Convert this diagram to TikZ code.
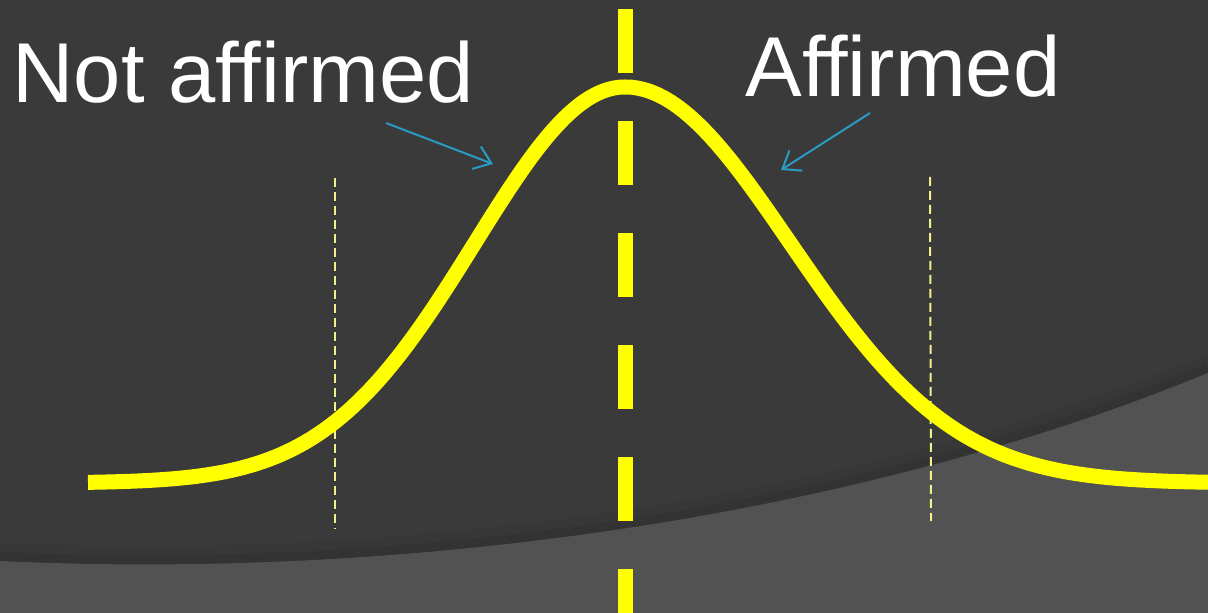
\documentclass[tikz,border=0pt]{standalone}
\usepackage{fontspec}
\setmainfont{Liberation Sans}
\usetikzlibrary{arrows.meta,positioning}

\definecolor{bgDark}{HTML}{3A3A3A}
\definecolor{bgLight}{HTML}{525252}
\definecolor{bellYellow}{HTML}{FFFF00}
\definecolor{paleYellow}{HTML}{F2F08C}
\definecolor{pointerBlue}{HTML}{2A9BC3}

\begin{document}
\begin{tikzpicture}[
    x=0.5pt, y=-0.5pt,
    % Styles
    labelText/.style={text=white, inner sep=0pt, font=\fontsize{42.5}{50}\selectfont},
    bellLine/.style={line width=7.5pt, bellYellow},
    meanLine/.style={line width=7.5pt, bellYellow, dash pattern=on 32pt off 24pt},
    tailLine/.style={line width=1pt, paleYellow, dash pattern=on 4.5pt off 2.5pt},
    pointer/.style={line width=1pt, pointerBlue, -{Straight Barb[length=8pt, width=12pt]}}
]
\useasboundingbox (0,0) rectangle (1208,613);
\clip (0,0) rectangle (1208,613);

% ================= BACKGROUND =================
\fill[bgDark] (0,0) rectangle (1208,613);
\draw[line width=12pt, black, opacity=0.05] (0,555) .. controls (400,574) and (850,514) .. (1208,367);
\draw[line width=6pt, black, opacity=0.06] (0,558) .. controls (400,577) and (850,517) .. (1208,370);
\fill[bgLight] (0,561) .. controls (400,580) and (850,520) .. (1208,373) -- (1208,613) -- (0,613) -- cycle;

% ================= LABELS =================
\node[labelText, anchor=base west] (notAff) at (12,103) {Not affirmed};
\node[labelText, anchor=base west] (aff) at (745,97) {Affirmed};

% ================= GUIDE LINES =================
\coordinate (meanTop) at (625,9);
\coordinate (meanBot) at (625,613);
\draw[meanLine] (meanTop) -- (meanBot);

\coordinate (leftTop) at (335,178);
\coordinate (leftBot) at (335,529);
\draw[tailLine] (leftTop) -- (leftBot);

\coordinate (rightTop) at (930,177);
\coordinate (rightBot) at (931,521);
\draw[tailLine] (rightTop) -- (rightBot);

% ================= BELL CURVE =================
% left half narrower than right half
\draw[bellLine] plot[domain=88:625, samples=90] (\x, {483-396*exp(-((\x-625)/150)^2/2)})
    -- plot[domain=625:1208, samples=90] (\x, {483-396*exp(-((\x-625)/165)^2/2)});

% ================= POINTERS =================
\coordinate (notAffTail) at (386,123);
\coordinate (notAffTip) at (493,164);
\draw[pointer] (notAffTail) -- (notAffTip);

\coordinate (affTail) at (870,113);
\coordinate (affTip) at (781,170);
\draw[pointer] (affTail) -- (affTip);

\end{tikzpicture}
\end{document}
